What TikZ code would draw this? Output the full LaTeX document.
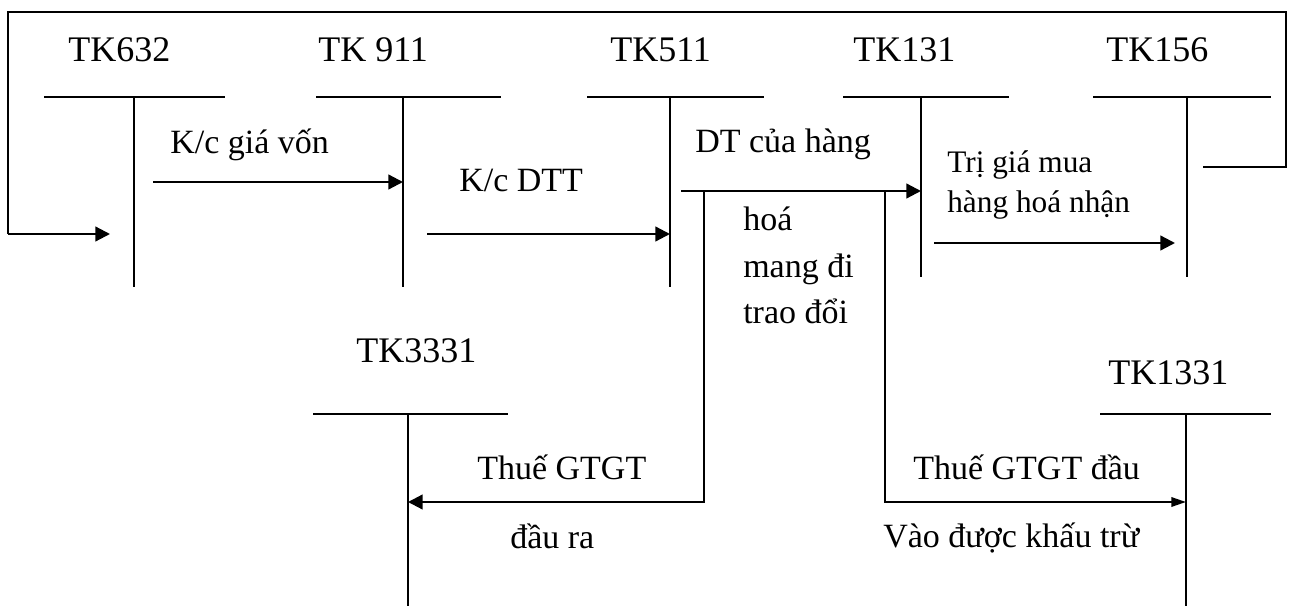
\documentclass[tikz,border=0pt]{standalone}
\usepackage{fontspec}
\setmainfont{Liberation Serif}
\usetikzlibrary{arrows.meta}
\tikzset{
  tline/.style={line width=1.3pt},
  arr/.style={line width=1.7pt,-{Triangle[length=11pt,width=11pt]}},
  frame/.style={line width=1.5pt},
  tklabel/.style={anchor=base west,inner sep=0pt,font=\fontsize{27pt}{32pt}\selectfont},
  lbl/.style={anchor=base west,inner sep=0pt,font=\fontsize{25.5pt}{30pt}\selectfont},
  slbl/.style={anchor=base west,inner sep=0pt,font=\fontsize{23.5pt}{28pt}\selectfont},
}
\begin{document}
\begin{tikzpicture}[x=0.75pt,y=-0.75pt]
\useasboundingbox (0,0) rectangle (1292,606);
% account labels
\node[tklabel] (l632) at (68,62) {TK632};
\node[tklabel] (l911) at (318,62) {TK 911};
\node[tklabel] (l511) at (610,62) {TK511};
\node[tklabel] (l131) at (853,62) {TK131};
\node[tklabel] (l156) at (1106,62) {TK156};
\node[tklabel] (l3331) at (356,362) {TK3331};
\node[tklabel] (l1331) at (1108,384) {TK1331};
% T accounts
\coordinate (a632) at (134,97);  \coordinate (b632) at (134,287);
\coordinate (a911) at (403,97);  \coordinate (b911) at (403,287);
\coordinate (a511) at (670,97);  \coordinate (b511) at (670,287);
\coordinate (a131) at (921,97);  \coordinate (b131) at (921,277);
\coordinate (a156) at (1187,97); \coordinate (b156) at (1187,277);
\coordinate (a3331) at (408,414); \coordinate (b3331) at (408,606);
\coordinate (a1331) at (1186,414); \coordinate (b1331) at (1186,606);
\draw[tline] (44,97) -- (225,97); \draw[tline] (a632) -- (b632);
\draw[tline] (316,97) -- (501,97); \draw[tline] (a911) -- (b911);
\draw[tline] (587,97) -- (764,97); \draw[tline] (a511) -- (b511);
\draw[tline] (843,97) -- (1009,97); \draw[tline] (a131) -- (b131);
\draw[tline] (1093,97) -- (1271,97); \draw[tline] (a156) -- (b156);
\draw[tline] (313,414) -- (508,414); \draw[tline] (a3331) -- (b3331);
\draw[tline] (1100,414) -- (1271,414); \draw[tline] (a1331) -- (b1331);
% outer frame
\coordinate (fs) at (1203,167);
\coordinate (fe) at (110,234);
\draw[frame] (fs) -- (1286,167) -- (1286,12) -- (8,12) -- (8,234);
\draw[arr] (8,234) -- (fe);
% arrows
\coordinate (k1) at (153,182); \coordinate (k1e) at (403,182);
\draw[arr] (k1) -- (k1e);
\coordinate (k2) at (427,234); \coordinate (k2e) at (670,234);
\draw[arr] (k2) -- (k2e);
\coordinate (d1) at (681,191); \coordinate (d1e) at (921,191);
\draw[arr] (d1) -- (d1e);
\draw[line width=2.2pt] (681,191) -- (722,191);
\draw[line width=2.2pt] (880,191) -- (908,191);
\coordinate (m1) at (934,243); \coordinate (m1e) at (1175,243);
\draw[arr] (m1) -- (m1e);
\coordinate (v1) at (704,191); \coordinate (v1e) at (408,502);
\draw[arr] (v1) |- (v1e);
\coordinate (v2) at (885,191); \coordinate (v2e) at (1186,502);
\draw[line width=1.7pt,-{Triangle[length=11pt,width=7pt]}] (v2) |- (v2e);
% labels
\node[lbl] (t1) at (170,154) {K/c giá vốn};
\node[lbl] (t2) at (459,192) {K/c DTT};
\node[lbl] (t3) at (695,153) {DT của hàng};
\node[lbl] (t4) at (743,230) {hoá};
\node[lbl] (t5) at (743,277) {mang đi};
\node[lbl] (t6) at (743,323) {trao đổi};
\node[slbl] (t7) at (947,173) {Trị giá mua};
\node[slbl] (t8) at (947,213) {hàng hoá nhận};
\node[lbl] (t9) at (477,479) {Thuế GTGT};
\node[lbl] (t10) at (510,548) {đầu ra};
\node[lbl] (t11) at (913,479) {Thuế GTGT đầu};
\node[lbl] (t12) at (883,547) {Vào được khấu trừ};
\end{tikzpicture}
\end{document}
